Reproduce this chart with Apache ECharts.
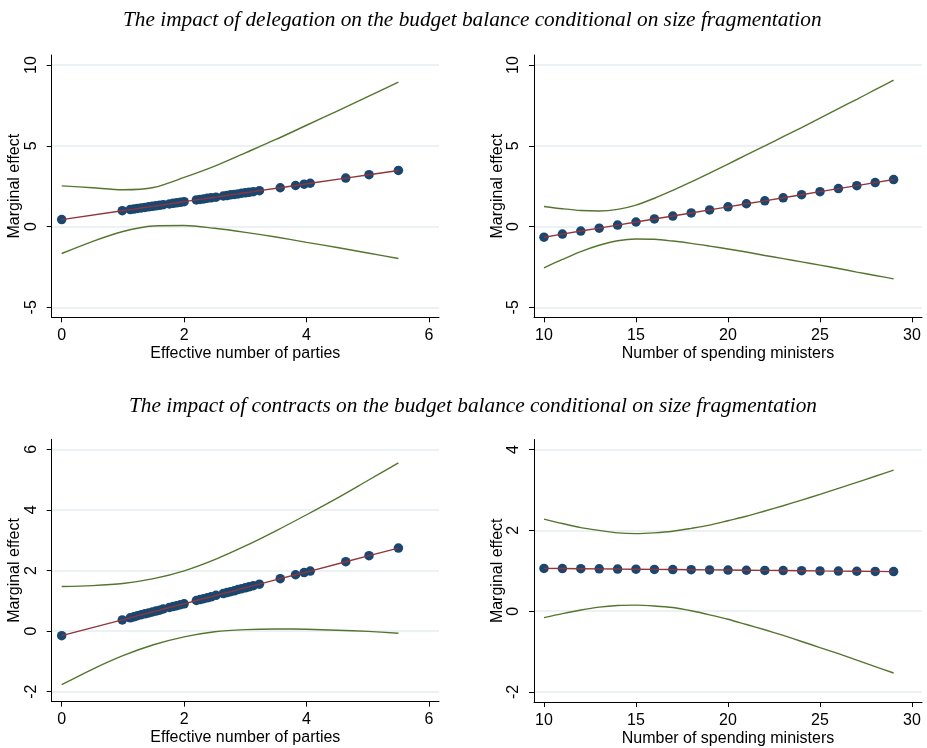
<!DOCTYPE html>
<html>
<head>
<meta charset="utf-8">
<script src="https://cdn.jsdelivr.net/npm/echarts@6/dist/echarts.min.js"></script>
<style>
  html, body { margin: 0; padding: 0; background: #ffffff; }
  #chart { width: 927px; height: 748px; }
</style>
</head>
<body>
<div id="chart"></div>
<script>
// Titles
const titleDelegation = 'The impact of delegation on the budget balance conditional on size fragmentation';
const titleContracts = 'The impact of contracts on the budget balance conditional on size fragmentation';
const partiesAxisName = 'Effective number of parties';
const ministersAxisName = 'Number of spending ministers';
const effectAxisName = 'Marginal effect';

// Tick values
const partiesTicks = [0, 2, 4, 6];
const ministersTicks = [10, 15, 20, 25, 30];
const delegationTicksY = [-5, 0, 5, 10];
const contractsPartiesTicksY = [-2, 0, 2, 4, 6];
const contractsMinistersTicksY = [-2, 0, 2, 4];

// Observed effective number of parties
const partiesObs = [0, 0.99, 1.12, 1.18, 1.24, 1.3, 1.36, 1.42, 1.48, 1.54, 1.6, 1.66, 1.76, 1.82, 1.88, 1.94, 2.0,
  2.2, 2.26, 2.32, 2.38, 2.44, 2.52, 2.64, 2.7, 2.76, 2.82, 2.88, 2.94, 3.0, 3.06, 3.13, 3.23,
  3.57, 3.82, 3.96, 4.06, 4.64, 5.02, 5.5];
// Marginal effect of delegation at each observed party count
const delegPartiesEffect = [0.43, 0.98, 1.05, 1.08, 1.12, 1.15, 1.18, 1.22, 1.25, 1.28, 1.31, 1.35, 1.40, 1.44, 1.47, 1.50, 1.54,
  1.65, 1.68, 1.71, 1.75, 1.78, 1.82, 1.89, 1.92, 1.96, 1.99, 2.02, 2.06, 2.09, 2.12, 2.16, 2.22,
  2.40, 2.54, 2.62, 2.68, 3.00, 3.21, 3.47];
// Marginal effect of contracts at each observed party count
const contrPartiesEffect = [-0.15, 0.37, 0.44, 0.47, 0.51, 0.54, 0.57, 0.60, 0.63, 0.66, 0.69, 0.73, 0.78, 0.81, 0.84, 0.87, 0.90,
  1.01, 1.04, 1.07, 1.10, 1.13, 1.18, 1.24, 1.27, 1.30, 1.33, 1.37, 1.40, 1.43, 1.46, 1.50, 1.55,
  1.73, 1.86, 1.93, 1.98, 2.29, 2.49, 2.74];

// Confidence bounds over the party range
const partiesBandX = [0, 0.5, 1, 1.5, 2, 2.5, 3, 3.5, 4, 4.5, 5, 5.5];
const delegPartiesUpper = [2.52, 2.40, 2.28, 2.42, 3.04, 3.74, 4.56, 5.39, 6.27, 7.15, 8.04, 8.94];
const delegPartiesLower = [-1.67, -0.93, -0.31, 0.03, 0.06, -0.11, -0.36, -0.65, -0.98, -1.30, -1.64, -1.98];
const contrPartiesUpper = [1.47, 1.50, 1.57, 1.73, 1.99, 2.36, 2.81, 3.31, 3.84, 4.39, 4.97, 5.55];
const contrPartiesLower = [-1.77, -1.26, -0.81, -0.45, -0.19, -0.02, 0.05, 0.07, 0.06, 0.03, -0.01, -0.07];

// Number of spending ministers
const ministersObs = [10, 11, 12, 13, 14, 15, 16, 17, 18, 19, 20, 21, 22, 23, 24, 25, 26, 27, 28, 29];
const delegMinEffect = [-0.66, -0.47, -0.28, -0.10, 0.09, 0.28, 0.47, 0.65, 0.84, 1.03, 1.22, 1.41, 1.59, 1.78, 1.97, 2.16, 2.35, 2.53, 2.72, 2.91];
const delegMinUpper = [1.24, 1.10, 0.99, 0.96, 1.06, 1.33, 1.75, 2.24, 2.76, 3.31, 3.87, 4.43, 4.99, 5.56, 6.13, 6.71, 7.30, 7.88, 8.47, 9.06];
const delegMinLower = [-2.56, -2.04, -1.55, -1.16, -0.88, -0.77, -0.79, -0.90, -1.04, -1.21, -1.39, -1.58, -1.79, -1.99, -2.19, -2.39, -2.60, -2.82, -3.03, -3.24];
const contrMinEffect = [1.06, 1.056, 1.052, 1.048, 1.043, 1.039, 1.035, 1.031, 1.027, 1.022, 1.018, 1.014, 1.01, 1.006, 1.002, 0.997, 0.993, 0.989, 0.985, 0.98];
const contrMinUpper = [2.28, 2.17, 2.07, 2.00, 1.94, 1.92, 1.94, 1.98, 2.05, 2.13, 2.24, 2.35, 2.48, 2.61, 2.75, 2.89, 3.04, 3.19, 3.34, 3.49];
const contrMinLower = [-0.16, -0.06, 0.03, 0.10, 0.14, 0.15, 0.13, 0.09, 0.01, -0.09, -0.20, -0.33, -0.46, -0.60, -0.75, -0.90, -1.05, -1.21, -1.37, -1.53];

const zip = (xs, ys) => xs.map((x, i) => [x, ys[i]]);

const NAVY = '#1a476f';
const MAROON = '#90353b';
const GREEN = '#55752f';
const GRID = '#e6eef0';
const AXIS = '#000000';
const SANS = '"Liberation Sans", Arial, sans-serif';
const SERIF = '"Liberation Serif", "Times New Roman", serif';

function xAxisFor(gridIndex, min, max, ticks, name) {
  return {
    type: 'value', gridIndex, min, max,
    name, nameLocation: 'middle', nameGap: 28,
    nameTextStyle: { fontFamily: SANS, fontSize: 16, color: '#000' },
    axisLine: { show: true, onZero: false, lineStyle: { color: AXIS, width: 1 } },
    axisTick: { show: true, length: 5, customValues: ticks, lineStyle: { color: AXIS, width: 1 } },
    axisLabel: { customValues: ticks, margin: 10, fontFamily: SANS, fontSize: 16, color: '#000' },
    splitLine: { show: false }
  };
}

function yAxisFor(gridIndex, min, max, ticks) {
  return {
    type: 'value', gridIndex, min, max,
    name: effectAxisName, nameLocation: 'middle', nameGap: 28, nameRotate: 90,
    nameTextStyle: { fontFamily: SANS, fontSize: 16, color: '#000' },
    axisLine: { show: true, onZero: false, lineStyle: { color: AXIS, width: 1 } },
    axisTick: { show: true, length: 5, customValues: ticks, lineStyle: { color: AXIS, width: 1 } },
    axisLabel: { customValues: ticks, rotate: 90, margin: 12, fontFamily: SANS, fontSize: 16, color: '#000' },
    splitLine: { show: true, lineStyle: { color: GRID, width: 1.5 } }
  };
}

function panelSeries(idx, obsX, effect, bandX, upper, lower) {
  const base = { xAxisIndex: idx, yAxisIndex: idx, silent: true, animation: false };
  return [
    Object.assign({}, base, { type: 'line', data: zip(bandX, upper), smooth: 0.3, showSymbol: false,
      lineStyle: { color: GREEN, width: 1.4 }, z: 2 }),
    Object.assign({}, base, { type: 'line', data: zip(bandX, lower), smooth: 0.3, showSymbol: false,
      lineStyle: { color: GREEN, width: 1.4 }, z: 2 }),
    Object.assign({}, base, { type: 'scatter', data: zip(obsX, effect), symbol: 'circle', symbolSize: 9.5,
      itemStyle: { color: NAVY, opacity: 1 }, z: 3 }),
    Object.assign({}, base, { type: 'line', data: zip(obsX, effect), showSymbol: false,
      lineStyle: { color: MAROON, width: 1.4 }, z: 4 })
  ];
}

const chart = echarts.init(document.getElementById('chart'), null, { renderer: 'canvas' });
chart.setOption({
  backgroundColor: '#ffffff',
  animation: false,
  title: [
    { text: titleDelegation, left: 118, top: 5,
      textStyle: { fontFamily: SERIF, fontStyle: 'italic', fontWeight: 'normal', fontSize: 21.3, color: '#000' } },
    { text: titleContracts, left: 124, top: 391,
      textStyle: { fontFamily: SERIF, fontStyle: 'italic', fontWeight: 'normal', fontSize: 21.3, color: '#000' } }
  ],
  grid: [
    { left: 51.7, top: 55, width: 387.3, height: 262.3 },
    { left: 534, top: 55, width: 388, height: 262.3 },
    { left: 51.7, top: 439.3, width: 387.3, height: 262.4 },
    { left: 534, top: 439.5, width: 388, height: 262.6 }
  ],
  xAxis: [
    xAxisFor(0, -0.163, 6.163, partiesTicks, partiesAxisName),
    xAxisFor(1, 9.457, 30.543, ministersTicks, ministersAxisName),
    xAxisFor(2, -0.163, 6.163, partiesTicks, partiesAxisName),
    xAxisFor(3, 9.457, 30.543, ministersTicks, ministersAxisName)
  ],
  yAxis: [
    yAxisFor(0, -5.62, 10.62, delegationTicksY),
    yAxisFor(1, -5.62, 10.62, delegationTicksY),
    yAxisFor(2, -2.33, 6.33, contractsPartiesTicksY),
    yAxisFor(3, -2.25, 4.25, contractsMinistersTicksY)
  ],
  series: [].concat(
    panelSeries(0, partiesObs, delegPartiesEffect, partiesBandX, delegPartiesUpper, delegPartiesLower),
    panelSeries(1, ministersObs, delegMinEffect, ministersObs, delegMinUpper, delegMinLower),
    panelSeries(2, partiesObs, contrPartiesEffect, partiesBandX, contrPartiesUpper, contrPartiesLower),
    panelSeries(3, ministersObs, contrMinEffect, ministersObs, contrMinUpper, contrMinLower)
  )
});
</script>
</body>
</html>
